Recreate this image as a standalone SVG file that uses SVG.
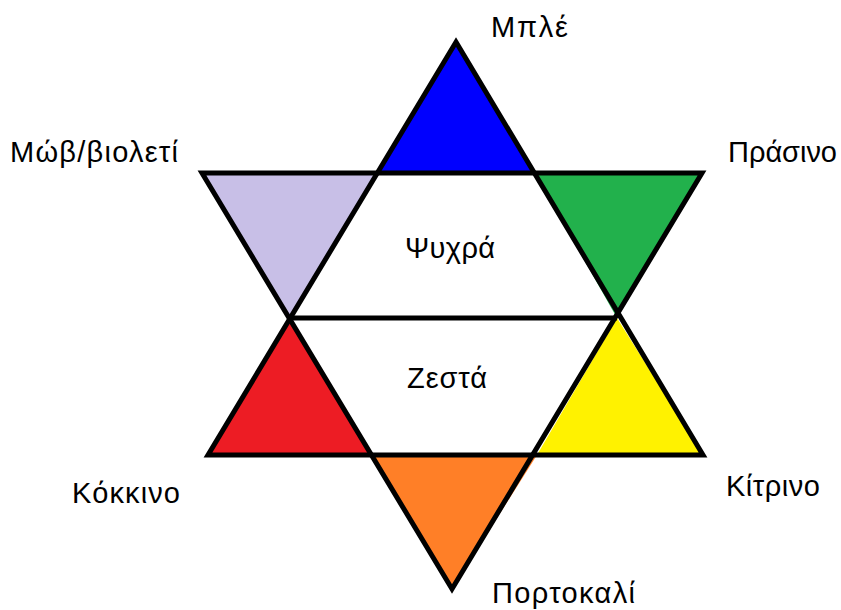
<svg xmlns="http://www.w3.org/2000/svg" width="841" height="610" viewBox="0 0 841 610">
<style>
text{font-family:"Liberation Sans",Arial,sans-serif;font-size:29px;fill:#000}
.o{fill:none;stroke:#000;stroke-width:5;stroke-linejoin:miter}
</style>
<rect width="841" height="610" fill="#fff"/>
<g id="blue"><polygon points="456,42 377,173 535,173" fill="#0000ff"/></g>
<g id="violet"><polygon points="202,173 377,173 291,318" fill="#c8bfe7"/></g>
<g id="green"><polygon points="535,173 702,173 617,318" fill="#22b14c"/></g>
<g id="red"><polygon points="291,318 208,455 372,455" fill="#ed1c24"/></g>
<g id="yellow"><polygon points="617,318 703,455 537,455" fill="#fff200"/></g>
<g id="orange"><polygon points="372,455 537,455 452,589" fill="#ff7f27"/></g>
<g id="outline">
<polygon class="o" points="456,42 703,455 208,455"/>
<polygon class="o" points="202,173 702,173 452,589"/>
<line class="o" x1="291" y1="318" x2="617" y2="318"/>
</g>
<g id="labels">
<text x="491" y="37" textLength="77">Μπλέ</text>
<text x="10" y="162" textLength="168">Μώβ/βιολετί</text>
<text x="728" y="162" textLength="109">Πράσινο</text>
<text x="405" y="258" textLength="90">Ψυχρά</text>
<text x="407" y="388" textLength="80">Ζεστά</text>
<text x="72" y="503" textLength="108">Κόκκινο</text>
<text x="726" y="496" textLength="94">Κίτρινο</text>
<text x="492" y="603" textLength="143">Πορτοκαλί</text>
</g>
</svg>
